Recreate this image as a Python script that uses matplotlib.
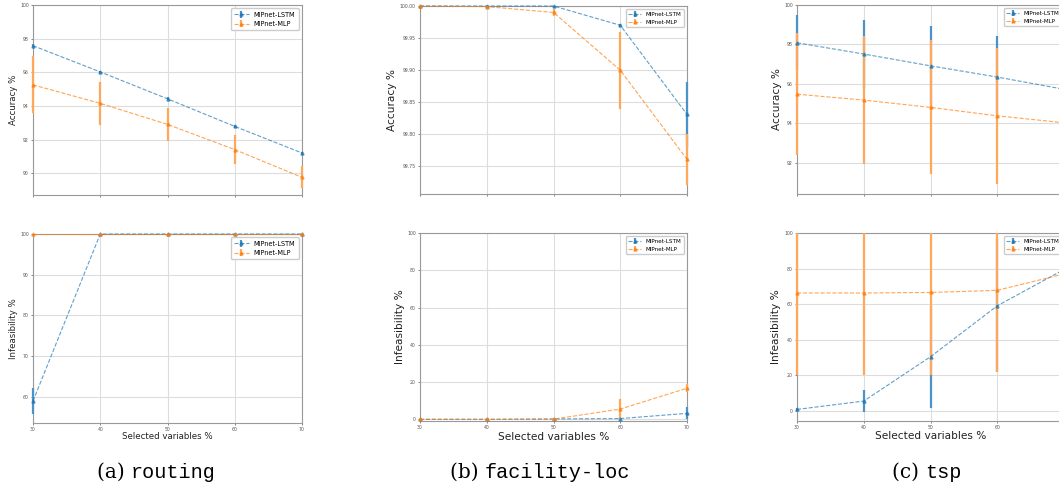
import matplotlib
matplotlib.use('Agg')
import matplotlib.pyplot as plt
from matplotlib.patches import Rectangle

# selected variables (x axis)
sel_vars = [30, 40, 50, 60, 70]

# routing
routing_acc_lstm = [97.58, 96.02, 94.42, 92.78, 91.2]
routing_acc_lstm_err = [0.1, 0.08, 0.08, 0.08, 0.08]
routing_acc_mlp = [95.25, 94.15, 92.9, 91.4, 89.75]
routing_acc_mlp_err = [1.7, 1.3, 1.0, 0.85, 0.65]
routing_inf_lstm = [58.9, 100, 100, 100, 100]
routing_inf_lstm_err = [3.3, 0, 0, 0, 0]
routing_inf_mlp = [100, 100, 100, 100, 100]
routing_inf_mlp_err = [0, 0, 0, 0, 0]

# facility-loc
facility_acc_lstm = [100.0, 100.0, 100.0, 99.97, 99.831]
facility_acc_lstm_err = [0, 0, 0.001, 0.002, 0.05]
facility_acc_mlp = [100.0, 99.999, 99.99, 99.90, 99.761]
facility_acc_mlp_err = [0, 0, 0.006, 0.06, 0.04]
facility_inf_lstm = [0.0, 0.0, 0.2, 0.4, 3.2]
facility_inf_lstm_err = [0, 0, 0, 0.3, 3.2]
facility_inf_mlp = [0.0, 0.0, 0.1, 5.5, 16.7]
facility_inf_mlp_err = [0, 0, 0, 5.5, 2.2]

# tsp
tsp_acc_lstm = [98.08, 97.51, 96.91, 96.34, 95.72]
tsp_acc_lstm_err = [1.4, 1.75, 2.0, 2.1, 2.2]
tsp_acc_mlp = [95.47, 95.17, 94.80, 94.37, 94.02]
tsp_acc_mlp_err = [3.1, 3.25, 3.4, 3.45, 3.5]
tsp_inf_lstm = [0.9, 5.6, 30.5, 59.1, 79.5]
tsp_inf_lstm_err = [1.0, 6.0, 28.6, 37.4, 30.0]
tsp_inf_mlp = [66.3, 66.3, 66.6, 67.8, 77.0]
tsp_inf_mlp_err = [46, 46, 46.5, 45.8, 40]

captions = [('(a)', 'routing'), ('(b)', 'facility-loc'), ('(c)', 'tsp')]

W, H = 1059, 490
BLUE = '#1f77b4'
ORANGE = '#ff7f0e'
BLUE_BAR = '#4a93c8'
ORANGE_BAR = '#ffa85a'

fig = plt.figure(figsize=(W / 100, H / 100), dpi=100)


def add_ax(x0, y0, x1, y1):
    # pixel box (top-left origin) -> figure fraction
    return fig.add_axes([x0 / W, (H - y1) / H, (x1 - x0) / W, (y1 - y0) / H])


def draw(ax, lstm, lstm_err, mlp, mlp_err, ylim, ylabel, xlabel, lab_x, lab_y,
         lab_fs=6.2, leg_fs=4.7, leg_anchor=(1, 1)):
    for vals, err, c, ec, name in [(lstm, lstm_err, BLUE, BLUE_BAR, 'MIPnet-LSTM'),
                                   (mlp, mlp_err, ORANGE, ORANGE_BAR, 'MIPnet-MLP')]:
        line, caps, bars = ax.errorbar(sel_vars, vals, yerr=err, color=c, ecolor=ec,
                                       ls='--', lw=0.8, marker='^', ms=2.2,
                                       elinewidth=1.6, label=name)
        line.set_alpha(0.7)
        line.set_clip_on(False)
        line.set_zorder(4)
        # let bars on the left/right spines show fully, but still cut them at top/bottom
        for b in bars:
            b.set_clip_path(Rectangle((-0.02, 0), 1.04, 1, transform=ax.transAxes))
            b.set_zorder(3)
    ax.set_xlim(30, 70)
    ax.set_ylim(*ylim)
    ax.set_xticks(sel_vars)
    ax.grid(True, color='#dddddd', lw=0.8)
    ax.set_axisbelow(True)
    for s in ax.spines.values():
        s.set_color('#999999')
        s.set_linewidth(0.8)
    ax.tick_params(labelsize=3.3, length=1.5, width=0.5, pad=1.5,
                   colors='#555555')
    ax.set_ylabel(ylabel, fontsize=lab_fs, va='center', color='#222222')
    ax.yaxis.set_label_coords(lab_x, 0.5)
    if xlabel:
        ax.set_xlabel('Selected variables %', fontsize=lab_fs, va='center',
                      color='#222222')
        ax.xaxis.set_label_coords(0.5, lab_y)
    else:
        ax.tick_params(labelbottom=False)
    ax.legend(loc='upper right', bbox_to_anchor=leg_anchor, fontsize=leg_fs,
              framealpha=1, edgecolor='#cccccc', borderpad=0.5, handlelength=2.2)


# (a) routing
ax = add_ax(33, 5, 302, 195)
draw(ax, routing_acc_lstm, routing_acc_lstm_err, routing_acc_mlp, routing_acc_mlp_err,
     (88.7, 100), 'Accuracy %', False, -0.074, None)
ax.set_yticks([90, 92, 94, 96, 98, 100])
ax = add_ax(33, 234, 302, 423)
draw(ax, routing_inf_lstm, routing_inf_lstm_err, routing_inf_mlp, routing_inf_mlp_err,
     (53.5, 100), 'Infeasibility %', True, -0.074, -0.071)
ax.set_yticks([60, 70, 80, 90, 100])

# (b) facility-loc
ax = add_ax(420, 6, 687, 194)
draw(ax, facility_acc_lstm, facility_acc_lstm_err, facility_acc_mlp, facility_acc_mlp_err,
     (99.707, 100), 'Accuracy %', False, -0.105, None, lab_fs=7.6, leg_fs=4.1)
ax.set_yticks([99.75, 99.80, 99.85, 99.90, 99.95, 100.0])
ax.set_yticklabels(['99.75', '99.80', '99.85', '99.90', '99.95', '100.00'])
ax = add_ax(420, 233, 687, 421)
draw(ax, facility_inf_lstm, facility_inf_lstm_err, facility_inf_mlp, facility_inf_mlp_err,
     (-0.9, 100), 'Infeasibility %', True, -0.075, -0.083, lab_fs=7.6, leg_fs=4.1)
ax.set_yticks([0, 20, 40, 60, 80, 100])

# (c) tsp  (right edge runs past the image, as in the source)
shift = (1 + 1 / 267, 1)
ax = add_ax(797, 5, 1064, 194)
draw(ax, tsp_acc_lstm, tsp_acc_lstm_err, tsp_acc_mlp, tsp_acc_mlp_err,
     (90.4, 100), 'Accuracy %', False, -0.075, None, lab_fs=7.6, leg_fs=4.1,
     leg_anchor=shift)
ax.set_yticks([92, 94, 96, 98, 100])
ax = add_ax(797, 233, 1064, 421)
draw(ax, tsp_inf_lstm, tsp_inf_lstm_err, tsp_inf_mlp, tsp_inf_mlp_err,
     (-5.6, 100), 'Infeasibility %', True, -0.079, -0.08, lab_fs=7.6, leg_fs=4.1,
     leg_anchor=shift)
ax.set_yticks([0, 20, 40, 60, 80, 100])
ax.set_xticklabels(['30', '40', '50', '60', ''])

# captions
cap_x = [131, 485, 925]
for (tag, name), cx in zip(captions, cap_x):
    fig.text(cx / W, (H - 472) / H, tag + ' ', ha='right', va='center',
             fontsize=14.5, family='DejaVu Serif')
    fig.text(cx / W, (H - 472) / H, name, ha='left', va='center',
             fontsize=14.5, family='Liberation Mono')

fig.savefig('out.png', dpi=100)
